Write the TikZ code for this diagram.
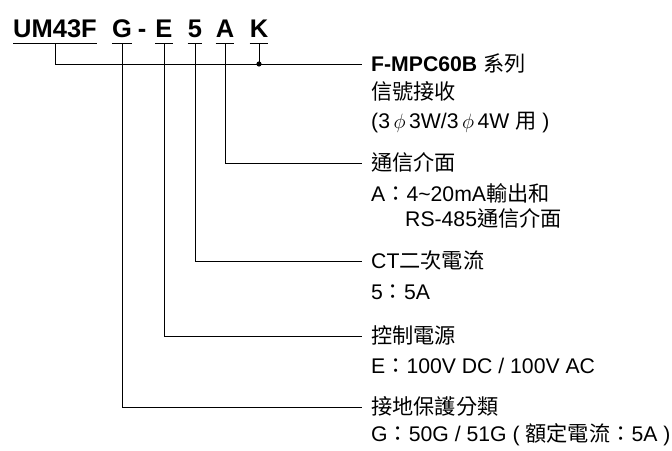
\documentclass[tikz,border=0pt]{standalone}
\usepackage{fontspec}
\setmainfont{Liberation Sans}
\newfontfamily\cjk{Noto Sans CJK TC}
\usetikzlibrary{positioning}

\begin{document}
\begin{tikzpicture}[x=1pt,y=-1pt,
        code/.style={anchor=base, inner sep=0pt, font=\bfseries\fontsize{25.5}{25.5}\selectfont},
        ttl/.style={anchor=west, inner sep=0pt, text height=17.8pt, text depth=3.2pt, font=\fontsize{21.2}{21.2}\selectfont},
        note/.style={ttl},
        wire/.style={line width=0.8pt, shorten >=9pt}]
    \useasboundingbox (0,0) rectangle (672,450);

    % model code
    \node[code] (um)   at (55,37)  {UM43F};
    \node[code] (g)    at (122,37) {G};
    \node[code] (dash) at (142,37) {-};
    \node[code] (e)    at (164,37) {E};
    \node[code] (ct)   at (195,37) {5};
    \node[code] (a)    at (225,37) {A};
    \node[code] (k)    at (259,37) {K};

    \foreach \n in {um,g,e,ct,a,k} {
        \draw[line width=1pt] ([yshift=-6pt]\n.base west) -- ([yshift=-6pt]\n.base east);
        \coordinate (\n-b) at ([yshift=-6pt]\n.base);
    }

    % meanings
    \node[ttl] (t1) at (371,64) {\textbf{F-MPC60B} {\cjk 系列}};
    \node[note, below right=7pt and 0pt of t1.south west] (t1a) {\cjk 信號接收};
    \node[note, below right=7pt and 0pt of t1a.south west] (t1b) {(3\,$\phi$\,3W/3\,$\phi$\,4W {\cjk 用} )};

    \node[ttl] (t2) at (371,163) {\cjk 通信介面};
    \node[note, below right=10pt and 0pt of t2.south west] (t2a) {A{\cjk ：}4\textasciitilde20mA{\cjk 輸出和}};
    \node[note, below right=3pt and 34pt of t2a.south west] (t2b) {RS-485{\cjk 通信介面}};

    \node[ttl] (t3) at (371,261) {CT{\cjk 二次電流}};
    \node[note, below right=10pt and 0pt of t3.south west] (t3a) {5{\cjk ：}5A};

    \node[ttl] (t4) at (371,336) {\cjk 控制電源};
    \node[note, below right=9pt and 0pt of t4.south west] (t4a) {E{\cjk ：}100V DC / 100V AC};

    \node[ttl] (t5) at (371,407) {\cjk 接地保護分類};
    \node[note, below right=6pt and 0pt of t5.south west] (t5a) {G{\cjk ：}50G / 51G ( {\cjk 額定電流：}5A )};

    % connectors
    \draw[wire] (um-b) |- (t1.west);
    \coordinate (kj) at (k-b |- t1.west);
    \draw[line width=0.8pt] (k-b) -- (kj);
    \fill (kj) circle (2.6pt);
    \draw[wire] (a-b)  |- (t2.west);
    \draw[wire] (ct-b) |- (t3.west);
    \draw[wire] (e-b)  |- (t4.west);
    \draw[wire] (g-b)  |- (t5.west);
\end{tikzpicture}
\end{document}
